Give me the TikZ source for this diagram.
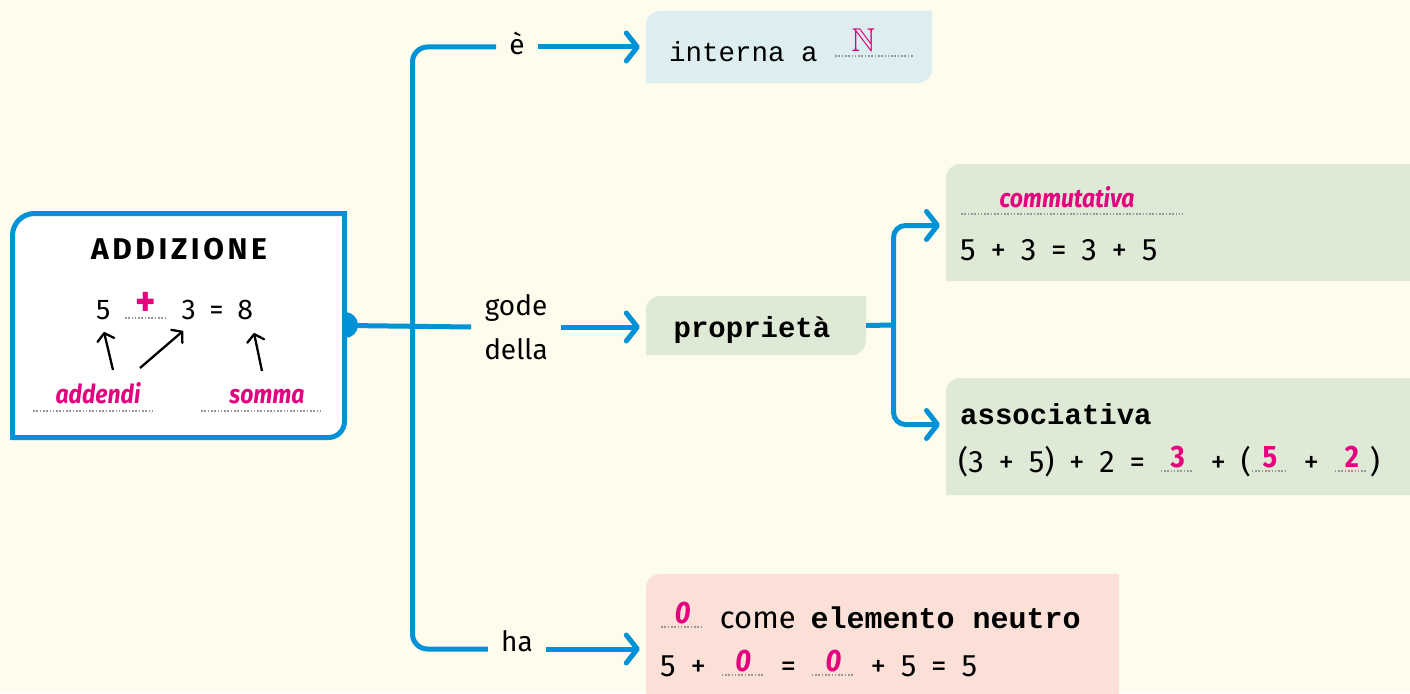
\documentclass[tikz,border=0pt]{standalone}
\usepackage{fontspec}
\usepackage{amssymb}
\setmainfont{Fira Sans}[WordSpace=1.8]
\setmonofont{Liberation Mono}
\newfontfamily\handfont{Fira Sans}[FakeStretch=0.88]
\newfontfamily\titlefont{Fira Sans}[LetterSpace=12]
\usetikzlibrary{arrows.meta,fit}

\definecolor{bg}{RGB}{254,252,237}
\definecolor{cblue}{RGB}{0,146,214}
\definecolor{pinkink}{RGB}{229,0,126}
\definecolor{boxblue}{RGB}{220,238,239}
\definecolor{boxgreen}{RGB}{223,234,214}
\definecolor{boxpink}{RGB}{250,224,214}
\definecolor{dotgray}{RGB}{150,150,150}

\newcommand\hand{\handfont\bfseries\itshape\color{pinkink}}
\newcommand\pinkd{\handfont\bfseries\color{pinkink}}
\newcommand\monob{\ttfamily\bfseries}
% dotted rule of given width
\newcommand\dotline[1]{\hbox to #1{\color{dotgray}\leaders\hbox to 3.3pt{\hss\rule{1.6pt}{1.6pt}\hss}\hfill}}
% fill-in blank: [raise of the dots]{width}{answer}
\newcommand\blank[3][0pt]{\leavevmode\rlap{\raisebox{#1}{\dotline{#2}}}\makebox[#2]{\raisebox{\dimexpr#1+5pt\relax}{#3}}}
% box with rounded top-left and bottom-right corners: name, x1, y1, x2, y2, colour
\newcommand\leafbox[6]{%
  \fill[#6] (#2,#5) -- (#2,#3+14) arc[start angle=180,end angle=270,radius=14]
    -- (#4,#3) -- (#4,#5-14) arc[start angle=0,end angle=90,radius=14] -- cycle;
  \coordinate (#1-nw) at (#2,#3);
  \coordinate (#1-se) at (#4,#5);
  \node[fit=(#1-nw)(#1-se), inner sep=0pt] (#1) {};
}

\begin{document}
\begin{tikzpicture}[x=1pt,y=-1pt,
  conn/.style={draw=cblue, line width=5pt},
  tip/.style={-{Straight Barb[round,length=11pt,width=28pt]}, shorten >=6pt},
  small/.style={draw=black, line width=2.3pt, -{Straight Barb[round,length=7pt,width=17pt]}},
  lbl/.style={font=\fontsize{28}{44}\selectfont, inner xsep=13pt, inner ysep=0pt, align=center},
  eq/.style={font=\fontsize{31}{36}\selectfont, inner sep=0pt, anchor=base west},
  mono/.style={font=\fontsize{27.5}{32}\selectfont\ttfamily, inner sep=0pt, anchor=base west},
  dots/.style={draw=dotgray, line width=1.6pt, dash pattern=on 1.6pt off 1.7pt},
]
\useasboundingbox (0,0) rectangle (1410,693);
\fill[bg] (0,0) rectangle (1410,693);

% ---- root box ----
\fill[cblue] (345,325) circle[radius=13];
\filldraw[fill=white, draw=cblue, line width=5pt]
  (12.5,437.5) -- (12.5,235.5) arc[start angle=180,end angle=270,radius=22]
  -- (344.5,213.5) -- (344.5,421.5) arc[start angle=0,end angle=90,radius=16] -- cycle;
\coordinate (root-nw) at (10,211);
\coordinate (root-se) at (347,440);
\node[fit=(root-nw)(root-se), inner sep=0pt] (root) {};

\node (title) at (179,249) {\fontsize{30}{32}\selectfont\titlefont\bfseries ADDIZIONE};
\node[inner sep=0pt, anchor=base west] (sum) at (96,319)
  {\fontsize{28.5}{32}\selectfont 5 \blank{44pt}{\fontsize{44}{44}\selectfont\pinkd\raisebox{-2pt}{+}} 3 = 8};

\coordinate (a1s) at (113,370); \coordinate (a1e) at (104,332);
\coordinate (a2s) at (140,368); \coordinate (a2e) at (183,331);
\coordinate (a3s) at (262,371); \coordinate (a3e) at (254,333);
\draw[small] (a1s) -- (a1e);
\draw[small] (a2s) -- (a2e);
\draw[small] (a3s) -- (a3e);

\node[anchor=base, inner sep=0pt] (addendi) at (98,403) {\fontsize{26}{30}\selectfont\hand addendi};
\node[anchor=base, inner sep=0pt] (somma) at (267,403) {\fontsize{26}{30}\selectfont\hand somma};
\draw[dots] (33,411) -- (155,411);
\draw[dots] (201,411) -- (323,411);

% ---- leaf boxes ----
\leafbox{interna}{646}{11}{932}{83}{boxblue}
\leafbox{prop}{646}{296}{866}{355}{boxgreen}
\leafbox{comm}{946}{164}{1424}{281}{boxgreen}
\leafbox{assoc}{946}{378}{1424}{495}{boxgreen}
\leafbox{neutro}{646}{574}{1119}{707}{boxpink}

% ---- link labels ----
\node[lbl, text height=16pt, text depth=0pt, anchor=base] (lblE) at (517,55) {è};
\node[lbl] (lblGd) at (516,327) {gode\\della};
\node[lbl, text height=14pt, text depth=10pt, anchor=base] (lblHa) at (517,651) {ha};

% ---- connectors ----
\coordinate (hub1) at (412.5,325);
\draw[conn] (root.east) -- (lblGd.west);
\draw[conn, rounded corners=15pt] (lblE.west) -| (hub1) |- (lblHa.west);
\draw[conn, tip] (lblE.east) -- (interna.west |- lblE.east);
\draw[conn, tip] (lblGd.east) -- (prop.west |- lblGd.east);
\draw[conn, tip] (lblHa.east) -- (lblHa.east -| neutro.west);

\coordinate (hub2) at (893.5,325);
\coordinate (commIn) at (946,225.5);
\coordinate (assocIn) at (946,424.5);
\draw[conn] (prop.east) -- (hub2);
\draw[conn, tip, rounded corners=12pt] (hub2) |- (commIn);
\draw[conn, tip, rounded corners=12pt] (hub2) |- (assocIn);

% ---- box texts ----
\node[mono] (internaT) at (669,62)
  {interna a \blank[5pt]{80pt}{\fontsize{33}{33}\selectfont\color{pinkink}$\mathbb{N}$\hspace{22pt}}};
\node[mono, anchor=base] (propT) at (752,337) {\fontsize{29}{32}\selectfont\monob propriet\`a};

\node[anchor=base, inner sep=0pt] (commT) at (1067,207) {\fontsize{26}{30}\selectfont\hand commutativa};
\draw[dots] (961,214) -- (1183,214);
\node[eq] (commEq) at (960,260) {5 + 3 = 3 + 5};

\node[mono] (assocT) at (960,424) {\fontsize{29}{32}\selectfont\monob associativa};
\node[eq] (assocEq) at (958,472)
  {(3 + 5) + 2 = \blank{36pt}{\pinkd 3} + (\blank{38pt}{\pinkd 5} + \blank{36pt}{\pinkd 2})};

\node[eq] (neutroT) at (660,628)
  {\blank{45pt}{\hand 0} come {\fontsize{30}{32}\selectfont\monob elemento neutro}};
\node[eq] (neutroEq) at (660,676)
  {5 + \blank{45pt}{\hand 0} = \blank{45pt}{\hand 0} + 5 = 5};
\end{tikzpicture}
\end{document}
